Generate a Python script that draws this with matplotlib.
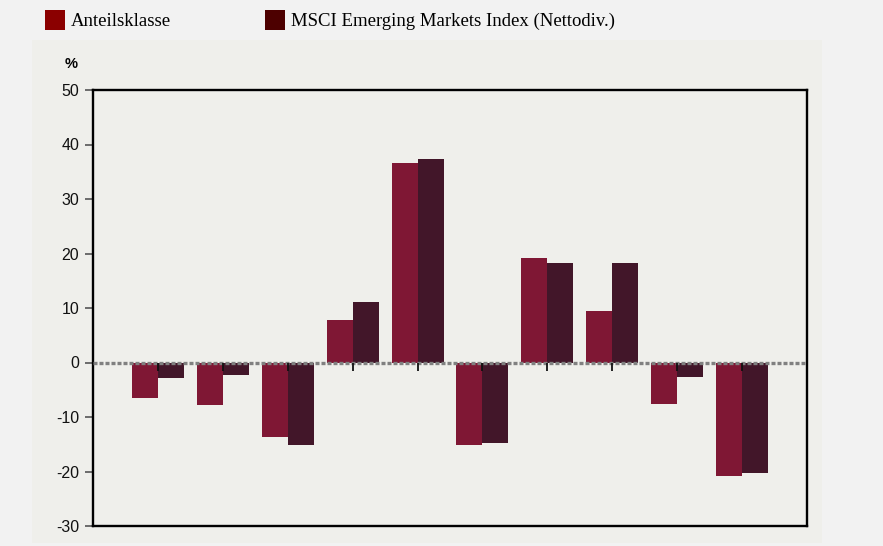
import matplotlib
matplotlib.use("Agg")
import matplotlib.pyplot as plt
from matplotlib.patches import Rectangle
import numpy as np

series_names = ["Anteilsklasse", "MSCI Emerging Markets Index (Nettodiv.)"]
anteilsklasse = [-6.5, -7.8, -13.7, 7.8, 36.6, -15.1, 19.2, 9.4, -7.6, -20.8]
index_vals = [-2.8, -2.3, -15.1, 11.1, 37.3, -14.8, 18.3, 18.3, -2.6, -20.2]
yticks = [-30, -20, -10, 0, 10, 20, 30, 40, 50]

bar_colors = ["#7f1734", "#421629"]
legend_colors = ["#8b0000", "#4d0000"]

W, H = 883, 546
fig = plt.figure(figsize=(W / 100, H / 100), dpi=100)
fig.patch.set_facecolor("#f2f2f2")

# inner panel as background axes
bg = fig.add_axes([32 / W, 1 - 543 / H, (822 - 32) / W, (543 - 40) / H])
bg.set_facecolor("#efefeb")
bg.set_xticks([]); bg.set_yticks([])
for s in bg.spines.values():
    s.set_visible(False)
bg.set_zorder(0)

ax = fig.add_axes([93 / W, 1 - 526 / H, (807 - 93) / W, (526 - 90) / H])
ax.set_zorder(1)
ax.set_facecolor("#efefeb")

x = np.arange(len(anteilsklasse))
w = 0.4
ax.bar(x - w / 2, anteilsklasse, width=w, color=bar_colors[0], zorder=2)
ax.bar(x + w / 2, index_vals, width=w, color=bar_colors[1], zorder=2)

ax.axhline(0, color="#808080", linestyle=(0, (1.2, 0.6)), linewidth=2.4, zorder=3)
ax.vlines(x, -1.5, 0, color="#111111", linewidth=1.3, zorder=4)

ax.set_xlim(-1, len(anteilsklasse))
ax.set_ylim(-30, 50)
ax.set_yticks(yticks)
ax.set_yticklabels([str(v) for v in yticks], fontsize=11.5, family="Liberation Sans",
                   color="#111111")
ax.set_xticks([])
ax.tick_params(axis="y", length=6, width=1.2, direction="out", pad=4, color="#555555")
for s in ax.spines.values():
    s.set_linewidth(1.7)
    s.set_color("black")

fig.text(71.5 / W, 1 - 64 / H, "%", fontsize=10.5, family="Liberation Sans",
         fontweight="bold", ha="center", va="center", zorder=5)

# legend
sq = 20
for i, (name, col, xs) in enumerate(zip(series_names, legend_colors, [45, 265])):
    fig.patches.append(Rectangle((xs / W, 1 - 30 / H), sq / W, sq / H,
                                 transform=fig.transFigure, facecolor=col,
                                 edgecolor="none"))
    fig.text((xs + 26) / W, 1 - 21 / H, name, fontsize=13.5, family="Liberation Serif",
             ha="left", va="center")

fig.savefig("out.png", dpi=100, facecolor=fig.get_facecolor())
